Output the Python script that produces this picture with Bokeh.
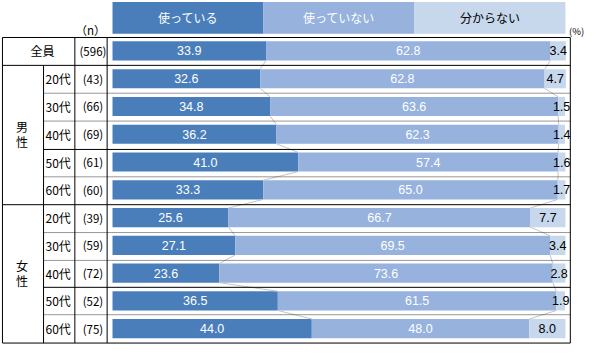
from bokeh.plotting import figure
from bokeh.models import Range1d, ColumnDataSource
from bokeh.core.properties import value
from bokeh.embed import file_html
from bokeh.resources import INLINE

# ---------------- data ----------------
categories = ["使っている", "使っていない", "分からない"]
row_groups = ["全員", "男性", "男性", "男性", "男性", "男性",
              "女性", "女性", "女性", "女性", "女性"]
ages = ["", "20代", "30代", "40代", "50代", "60代",
        "20代", "30代", "40代", "50代", "60代"]
n_values = [596, 43, 66, 69, 61, 60, 39, 59, 72, 52, 75]
using = [33.9, 32.6, 34.8, 36.2, 41.0, 33.3, 25.6, 27.1, 23.6, 36.5, 44.0]
not_using = [62.8, 62.8, 63.6, 62.3, 57.4, 65.0, 66.7, 69.5, 73.6, 61.5, 48.0]
unknown = [3.4, 4.7, 1.5, 1.4, 1.6, 1.7, 7.7, 3.4, 2.8, 1.9, 8.0]

colors = ["#4a7ebb", "#96b2dd", "#c7d7ec"]
label_colors = ["white", "white", "black"]

# ------------- layout helpers (reference pixel -> data units) -------------
X0, K = 115.5, 4.63      # 0% position and px per percent
Y0, P = 53.0, 28.9       # first row centre and row pitch


def hx(px):
    return (px - X0) / K


def vy(py):
    return (py - Y0) / P


NUM_FONT = value("Liberation Sans")
JP_FONT = value("Noto Sans CJK JP")

p = figure(width=584, height=344,
           x_range=Range1d(hx(1), hx(598)),
           y_range=Range1d(vy(358.5), vy(0.5)),
           x_axis_type=None, y_axis_type=None,
           output_backend="svg", toolbar_location=None, min_border=0)
p.grid.visible = False
p.outline_line_color = None
p.background_fill_color = "white"

rows = list(range(len(using)))
b1 = using
b2 = [a + b for a, b in zip(using, not_using)]
b3 = [a + b for a, b in zip(b2, unknown)]
BAR_H = 0.69

# ---------------- bars ----------------
segs = [([0.0] * len(rows), b1), (b1, b2), (b2, b3)]
for (left, right), c in zip(segs, colors):
    p.hbar(y=rows, left=left, right=right, height=BAR_H,
           fill_color=c, line_color=None)

# series lines between consecutive bars
for b in (b1, b2):
    p.segment(x0=b[:-1], y0=[r + BAR_H / 2 for r in rows[:-1]],
              x1=b[1:], y1=[r + 1 - BAR_H / 2 for r in rows[:-1]],
              line_color="#c4c4c4", line_width=1)

# value labels
vals = [using, not_using, unknown]
for (left, right), v, tc in zip(segs, vals, label_colors):
    src = ColumnDataSource(dict(
        x=[(l + r) / 2 for l, r in zip(left, right)],
        y=rows,
        t=[f"{a:.1f}" for a in v]))
    p.text(x="x", y="y", text="t", source=src, text_align="center",
           text_baseline="middle", text_color=tc, text_font=NUM_FONT,
           text_font_size="12.5px")

# ---------------- header legend ----------------
hy = vy(18.5)
hh = 33 / P
thirds = [i * 100 / 3 for i in range(4)]
p.hbar(y=[hy] * 3, left=thirds[:-1], right=thirds[1:], height=hh,
       fill_color=colors, line_color=None)
p.text(x=[(a + b) / 2 for a, b in zip(thirds[:-1], thirds[1:])],
       y=[hy] * 3, text=categories, text_align="center",
       text_baseline="middle", text_color=label_colors,
       text_font=JP_FONT, text_font_size="12px")

# ---------------- table lines ----------------
L, R = 3, 583.5
solid_full = [39, 68, 213, 357]
solid_part = [155.5, 299]
dotted = [97, 126, 184, 242, 271, 327.5]
p.segment(x0=[hx(L)] * len(solid_full), x1=[hx(R)] * len(solid_full),
          y0=[vy(v) for v in solid_full], y1=[vy(v) for v in solid_full],
          line_color="black", line_width=1)
p.segment(x0=[hx(45)] * len(solid_part), x1=[hx(R)] * len(solid_part),
          y0=[vy(v) for v in solid_part], y1=[vy(v) for v in solid_part],
          line_color="black", line_width=1)
p.segment(x0=[hx(45)] * len(dotted), x1=[hx(R)] * len(dotted),
          y0=[vy(v) for v in dotted], y1=[vy(v) for v in dotted],
          line_color="#303030", line_width=1, line_dash="1 1")
vx = [L, 45, 77, 110, R]
vtop = [39, 68, 39, 39, 39]
p.segment(x0=[hx(v) for v in vx], x1=[hx(v) for v in vx],
          y0=[vy(t) for t in vtop], y1=[vy(357)] * len(vx),
          line_color="black", line_width=1)

# ---------------- left labels ----------------
p.text(x=[hx(44)], y=[0], text=[row_groups[0]], text_align="center",
       text_baseline="middle", text_color="black", text_font=JP_FONT,
       text_font_size="12px")
p.text(x=[hx(47)] * (len(rows) - 1), y=rows[1:], text=ages[1:],
       text_align="left", text_baseline="middle", text_color="black",
       text_font=JP_FONT, text_font_size="12px")
p.text(x=[hx(95.5)] * len(rows), y=rows, text=[f"({n})" for n in n_values],
       text_align="center", text_baseline="middle", text_color="black",
       text_font=JP_FONT, text_font_size="11.5px")

# gender labels (vertical, one char per line)
g_x, g_y, g_t = [], [], []
for g in ("男性", "女性"):
    idx = [i for i, rg in enumerate(row_groups) if rg == g]
    centre = (idx[0] + idx[-1]) / 2
    for k, ch in enumerate(g):
        g_x.append(hx(23))
        g_y.append(centre + (k - 0.5) * 0.55)
        g_t.append(ch)
p.text(x=g_x, y=g_y, text=g_t, text_align="center", text_baseline="middle",
       text_color="black", text_font=JP_FONT, text_font_size="12px")

# column captions
p.text(x=[hx(93)], y=[vy(31.5)], text=["（n）"], text_align="center",
       text_baseline="middle", text_color="black", text_font=JP_FONT,
       text_font_size="11.5px")
p.text(x=[hx(590)], y=[vy(32.5)], text=["(%)"], text_align="center",
       text_baseline="middle", text_color="black", text_font=JP_FONT,
       text_font_size="9.5px")

open("out.html", "w").write(file_html(p, INLINE))
